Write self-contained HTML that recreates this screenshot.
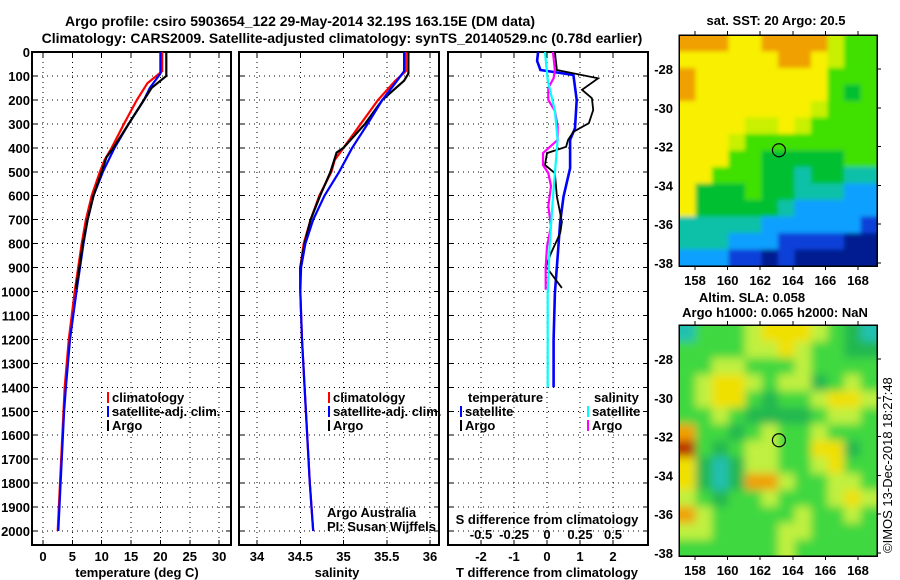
<!DOCTYPE html>
<html><head><meta charset="utf-8"><style>
body{margin:0;background:#fff}
svg{display:block;font-family:"Liberation Sans",sans-serif}
.b{font-weight:bold;font-size:13px}
.t{font-weight:bold;font-size:14px}
</style></head><body>
<svg id="c" width="900" height="580" viewBox="0 0 900 580" shape-rendering="crispEdges">
<defs>
<clipPath id="m1"><rect x="679" y="35" width="198" height="231"/></clipPath>
<clipPath id="m2"><rect x="679" y="325" width="198" height="231"/></clipPath>
<filter id="bl1" x="-10%" y="-10%" width="120%" height="120%"><feGaussianBlur stdDeviation="2"/></filter>
<filter id="bl2" x="-10%" y="-10%" width="120%" height="120%"><feGaussianBlur stdDeviation="4.5"/></filter>
</defs>
<text class="t" x="300" y="26" text-anchor="middle">Argo profile: csiro 5903654_122 29-May-2014 32.19S 163.15E (DM data)</text>
<text class="t" x="342" y="43" text-anchor="middle">Climatology: CARS2009. Satellite-adjusted climatology: synTS_20140529.nc (0.78d earlier)</text>
<g id="g"></g>
<text x="892" y="553" font-size="13" transform="rotate(-90 892 553)">©IMOS 13-Dec-2018 18:27:48</text>
</svg>
<script>
// ---- data ----
const climTdepth=[0,80,130,200,300,400,450,500,600,700,800,900,1000,1200,1400,1500,1800,2000];
const climT=[20.3,20.3,17.8,16.0,13.8,11.7,10.5,9.7,8.3,7.3,6.6,6.0,5.4,4.4,3.7,3.5,2.9,2.5];
const satTdepth=[0,90,150,200,300,400,500,600,700,800,900,1000,1200,1400,1500,1800,2000];
const satT=[20.0,20.0,18.2,17.2,14.6,12.2,10.2,8.6,7.6,6.9,6.3,5.7,4.6,3.9,3.6,3.0,2.6];
const argoTdepth=[0,100,150,200,300,400,440,500,600,700,800,900,990];
const argoT=[21.0,21.0,18.5,17.2,14.6,12.0,10.8,10.0,8.6,7.6,6.8,6.2,5.6];
const climSdepth=[0,80,120,200,300,400,450,500,600,700,800,900,1000,1200,1400,1600,1800,2000];
const climS=[35.72,35.72,35.6,35.4,35.2,35.0,34.9,34.86,34.72,34.62,34.54,34.5,34.5,34.52,34.55,34.58,34.61,34.65];
const satSdepth=[0,80,120,200,300,400,500,600,700,800,900,1000,1200,1400,1600,1800,2000];
const satS=[35.7,35.7,35.62,35.45,35.28,35.1,34.95,34.78,34.65,34.56,34.51,34.5,34.52,34.55,34.58,34.61,34.65];
const argoSdepth=[0,90,120,200,300,400,420,500,600,700,800,900,990];
const argoS=[35.75,35.75,35.7,35.45,35.25,35.0,34.92,34.85,34.73,34.62,34.55,34.5,34.5];
const dTsatDepth=[0,37,75,96,200,318,367,485,604,709,840,1006,1200,1400];
const dTsat=[-0.27,-0.3,-0.2,0.8,0.9,0.85,0.7,0.7,0.5,0.4,0.33,0.24,0.2,0.2];
const dTargoDepth=[0,75,110,158,193,242,297,333,367,396,422,472,506,604,709,756,840,896,952,985];
const dTargo=[0.24,0.3,1.55,1.06,1.36,1.4,1.27,0.8,0.64,0.58,0,-0.06,0.24,0.3,0.45,0.4,0.12,-0.03,0.27,0.45];
const dSargoDepth=[0,75,110,150,200,246,308,367,422,472,506,560,644,728,812,896,993];
const dSargo=[0.045,0.06,0.05,0.01,0.01,0.06,0.08,0.08,-0.03,-0.03,0.01,0.03,0.01,0.03,0,-0.01,-0.01];
const dSsatDepth=[0,117,246,367,506,644,812,1006,1400];
const dSsat=[-0.015,0.005,0.06,0.08,0.06,0.04,0.02,0.005,0.005];
const depthTicks=[0,100,200,300,400,500,600,700,800,900,1000,1100,1200,1300,1400,1500,1600,1700,1800,1900,2000];
const tTicks=[0,5,10,15,20,25,30];
const sTicks=[34,34.5,35,35.5,36];
const dTTicks=[-2,-1,0,1,2];
const dSTicks=[-0.5,-0.25,0,0.25,0.5];
const lonTicks=[158,160,162,164,166,168];
const latTicks=[-28,-30,-32,-34,-36,-38];
const sstGrid=[
[7,7,7,6,6,7,7,7,7,5,4,4],[6,6,6,6,6,6,7,7,6,5,4,4],[7,6,6,6,6,6,6,6,6,4,4,4],[7,6,6,6,6,6,6,6,6,4,3,4],
[6,6,6,6,6,6,6,6,5,4,4,4],[6,6,6,6,5,5,6,5,4,4,4,4],[6,6,6,5,4,4,4,4,4,4,4,4],[6,6,6,4,4,3,3,3,3,3,4,4],
[6,6,4,4,4,3,3,2,3,3,2,2],[6,3,3,3,4,3,3,2,2,2,1,1],[6,3,3,3,3,3,2,1,1,1,1,1],[2,2,2,2,2,1,1,1,1,1,1,0],
[2,2,2,1,1,1,0,0,0,0,-1,-1],[1,1,1,0,0,-1,0,-1,-1,-1,-1,-1]];
const slaGrid=[
[2,4,4,4,5,6,6,6,5,4,3,2],[4,4,4,4,5,5,6,5,4,4,3,3],[4,4,5,5,4,4,4,5,4,4,4,4],[4,5,6,6,5,4,5,5,3,4,5,4],
[4,5,6,6,4,3,4,4,5,6,6,5],[4,4,5,4,3,3,3,3,4,5,5,4],[7,4,4,3,4,5,4,4,5,4,4,4],[8,4,3,4,5,5,4,4,6,6,3,4],
[6,3,2,3,5,5,4,4,5,6,4,4],[6,3,2,3,7,7,5,4,4,5,5,4],[5,4,3,4,4,5,4,4,4,5,6,5],[7,5,4,4,4,4,4,5,4,4,5,4],
[5,5,4,4,4,4,5,5,4,4,4,4],[4,4,4,4,4,4,5,4,4,4,4,4]];
const sstColors={"-1":"#001a90","0":"#1040d8","1":"#10a0ff","2":"#10c0a8","3":"#00c030","4":"#40e000","5":"#c8f000","6":"#f8f000","7":"#f0a000"};
const slaColors={"2":"#20c0b0","3":"#20b850","4":"#40d840","5":"#c0f040","6":"#f0e000","7":"#f0a000","8":"#b83000"};

const NS="http://www.w3.org/2000/svg";
const G=document.getElementById('g');
function mk(tag,at,parent){const e=document.createElementNS(NS,tag);for(const k in at)e.setAttribute(k,at[k]);(parent||G).appendChild(e);return e;}
const y0=52, yk=0.2395, yB=545;
const yD=d=>y0+d*yk;
const xT=v=>43+v*5.87;
const xS=v=>257+(v-34)*86.5;
const xdT=v=>547+v*33;
const xdS=v=>547+v*132;

function panel(name,x1,x2,ticks,xf,labels,labelY){
  const fr=mk('rect',{x:x1,y:y0,width:x2-x1,height:yB-y0,fill:'none',stroke:'#000','stroke-width':2});
  
  
  for(const d of depthTicks){
    const l=mk('line',{x1:x1,x2:x2,y1:yD(d),y2:yD(d),stroke:'#000','stroke-dasharray':'1 4','stroke-width':1});
    
    
    mk('line',{x1:x1,x2:x1+5,y1:yD(d),y2:yD(d),stroke:'#000'});
    mk('line',{x1:x2-5,x2:x2,y1:yD(d),y2:yD(d),stroke:'#000'});
  }
  ticks.forEach((t,i)=>{
    const x=xf(t);
    const l=mk('line',{x1:x,x2:x,y1:y0,y2:yB,stroke:'#000','stroke-dasharray':'1 4','stroke-width':1});
    
    
    mk('line',{x1:x,x2:x,y1:yB-5,y2:yB,stroke:'#000'});
    mk('line',{x1:x,x2:x,y1:y0,y2:y0+5,stroke:'#000'});
    if(labels){const tx=mk('text',{x:x,y:labelY,'text-anchor':'middle','class':'b'});tx.textContent=labels[i];
      
      }
  });
}
function line(name,depths,vals,xf,color,w){
  let p='';depths.forEach((d,i)=>{p+=(i?'L':'M')+xf(vals[i]).toFixed(1)+' '+yD(d).toFixed(1);});
  const e=mk('path',{d:p,fill:'none',stroke:color,'stroke-width':w||2.2,'shape-rendering':'auto'});
  
  
}
function text(name,x,y,s,cls,anchor,extra){
  const e=mk('text',Object.assign({x:x,y:y,'class':cls||'b','text-anchor':anchor||'start'},extra||{}));e.textContent=s;
  
  
  return e;
}
function legend(name,x,y,items){
  items.forEach((it,i)=>{
    const r=mk('rect',{x:x,y:y+i*14-10,width:2,height:11,fill:it[1]});
    
    
    text(name+'-entry',x+5,y+i*14,it[0]);
  });
}

// panel 1
panel('temp-panel',32,231,tTicks,xT,tTicks.map(String),561);
depthTicks.forEach(d=>text('depth-label',30,yD(d)+5,String(d),'b','end'));
line('temp-climatology',climTdepth,climT,xT,'#f00');
line('temp-satellite',satTdepth,satT,xT,'#00f');
line('temp-argo',argoTdepth,argoT,xT,'#000');
legend('temp-legend',107,402,[['climatology','#f00'],['satellite-adj. clim.','#00f'],['Argo','#000']]);
text('temp-x-title',137,577,'temperature (deg C)','b','middle');

// panel 2
panel('sal-panel',239,439,sTicks,xS,['34','34.5','35','35.5','36'],561);
line('sal-climatology',climSdepth,climS,xS,'#f00');
line('sal-argo',argoSdepth,argoS,xS,'#000');
line('sal-satellite',satSdepth,satS,xS,'#00f');
legend('sal-legend',328,402,[['climatology','#f00'],['satellite-adj. clim.','#00f'],['Argo','#000']]);
text('sal-x-title',337,577,'salinity','b','middle');
text('argo-australia',327,517,'Argo Australia','', 'start',{'font-size':'12'});
text('pi-name',327,531,'PI: Susan Wijffels','', 'start',{'font-size':'12'});

// panel 3
panel('diff-panel',448,648,dTTicks,xdT,['-2','-1','0','1','2'],561);
line('dT-satellite',dTsatDepth,dTsat,xdT,'#00f',2.6);
line('dT-argo',dTargoDepth,dTargo,xdT,'#000',1.8);
line('dS-argo',dSargoDepth,dSargo,xdS,'#f0f',2.2);
line('dS-satellite',dSsatDepth,dSsat,xdS,'#0ff',2.2);
text('diff-legend-temp-head',468,402,'temperature');
text('diff-legend-sal-head',594,402,'salinity');
legend('diff-legend-temp',460,416,[['satellite','#00f'],['Argo','#000']]);
legend('diff-legend-sal',587,416,[['satellite','#0ff'],['Argo','#f0f']]);
text('s-diff-title',547,524,'S difference from climatology','b','middle');
dSTicks.forEach(t=>text('s-diff-tick',xdS(t),539,String(t),'b','middle'));
text('t-diff-title',547,577,'T difference from climatology','b','middle');

// maps
function map(name,top,grid,colors,filt,clip){
  const g=mk('g',{'clip-path':'url(#'+clip+')'});
  const g2=mk('g',{filter:'url(#'+filt+')'},g);
  const cw=198/12, ch=231/14;
  grid.forEach((row,r)=>row.forEach((v,c)=>{
    let x=679+c*cw,y=top+r*ch,w=cw+1,h=ch+1;
    if(c==0){x-=20;w+=20;} if(c==11)w+=20; if(r==0){y-=20;h+=20;} if(r==13)h+=20;
    const e=mk('rect',{x:x,y:y,width:w,height:h,fill:colors[String(v)]},g2);
    
    
  }));
  const fr=mk('rect',{x:679,y:top,width:198,height:231,fill:'none',stroke:'#000','stroke-width':1.5});
  
  
  const lx=v=>695+(v-158)*16.3, ly=v=>top+34+(-28-v)*19.4;
  lonTicks.forEach(t=>{mk('line',{x1:lx(t),x2:lx(t),y1:top,y2:top-4,stroke:'#000'});
    mk('line',{x1:lx(t),x2:lx(t),y1:top+231,y2:top+235,stroke:'#000'});
    text(name+'-lon-label',lx(t),top+250,String(t),'b','middle');});
  latTicks.forEach(t=>{mk('line',{x1:877,x2:881,y1:ly(t),y2:ly(t),stroke:'#000'});
    text(name+'-lat-label',673,ly(t)+5,String(t),'b','end');});
  const c=mk('circle',{cx:lx(163.15),cy:ly(-32.19),r:6.5,fill:'none',stroke:'#000','stroke-width':1.2,'shape-rendering':'auto'});
  
  
}
map('sst-map',35,sstGrid,sstColors,'bl1','m1');
map('sla-map',325,slaGrid,slaColors,'bl2','m2');
text('sst-map-title',776,25,'sat. SST: 20 Argo: 20.5','b','middle');
text('sla-map-title',752,302,'Altim. SLA: 0.058','b','middle');
text('sla-map-subtitle',775,317,'Argo h1000: 0.065 h2000: NaN','b','middle');
</script>
</body></html>
